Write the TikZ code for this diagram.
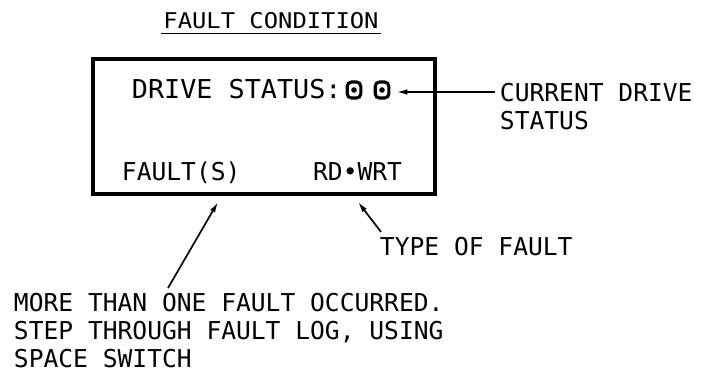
\documentclass[tikz,border=0pt]{standalone}
\usepackage{fontspec}
\setmonofont{DejaVu Sans Mono}
\newfontfamily\titlefont{DejaVu Sans Mono}[FakeStretch=1.1]
\newfontfamily\dispfont{DejaVu Sans Mono}[FakeStretch=1.03]
\usepackage{tikz}
\usetikzlibrary{
  arrows.meta,
  positioning,
  calc
}

\begin{document}
\begin{tikzpicture}[
    panel/.style={
      rectangle, draw, line width=2.5pt,
      minimum width=8.55cm, minimum height=3.375cm
    },
    lamp/.style={
      rectangle, draw, line width=2.2pt, rounded corners=3pt,
      inner sep=0pt, minimum width=0.34cm, minimum height=0.4cm
    },
    disp/.style={font=\dispfont\fontsize{18.5}{22}\selectfont},
    note/.style={font=\ttfamily\fontsize{17.5}{20.3}\selectfont,
      text height=13pt, text depth=0pt},
    pointer/.style={-{Latex[length=7.5pt,width=4pt]}, line width=1.2pt},
  ]
    \useasboundingbox (0,0) rectangle (17.525,-9.35);

    % heading
    \node[font=\titlefont\fontsize{15.4}{18}\selectfont, inner xsep=1.8pt, inner ysep=3.5pt,
      anchor=base] (title) at (6.775,-0.7) {FAULT CONDITION};
    \draw[line width=1pt] (title.south west) -- (title.south east);

    % the display
    \node[panel] (display) at (6.6,-3.1625) {};
    \node[disp, anchor=base west] (drive) at (3.175,-2.45) {DRIVE STATUS:};
    \foreach \n/\x in {sym1/8.85, sym2/9.55}{
      \node[lamp] (\n) at (\x,-2.25) {};
      \fill (\n.center) circle (0.07cm);
    }
    \node[note, anchor=base west] (fault) at (2.925,-4.5) {FAULT(S)};
    \node[note, anchor=base east] (rdwrt) at (10.175,-4.5) {RD•WRT};

    % callouts
    \node[note, anchor=west] (curr) at (12.375,-2.3) {CURRENT DRIVE};
    \node[note, below=0pt of curr.south west, anchor=north west] (currb) {STATUS};
    \node[note, anchor=west] (type) at (9.375,-6.15) {TYPE OF FAULT};
    \node[font=\ttfamily\fontsize{17.5}{19.9}\selectfont, align=left, anchor=north west]
      (more) at (0.225,-7.2)
      {MORE THAN ONE FAULT OCCURRED.\\STEP THROUGH FAULT LOG, USING\\SPACE SWITCH};

    \coordinate (ftip) at (5.45,-5.05);
    \coordinate (ttip) at (8.95,-5.05);

    \draw[pointer, shorten >=0.16cm] (curr.west) -- (sym2.east |- curr.west);
    \draw[pointer] ([xshift=3.975cm]more.north west) -- (ftip);
    \draw[pointer] ([xshift=0.15cm]type.north west) -- (ttip);
  \end{tikzpicture}
\end{document}
